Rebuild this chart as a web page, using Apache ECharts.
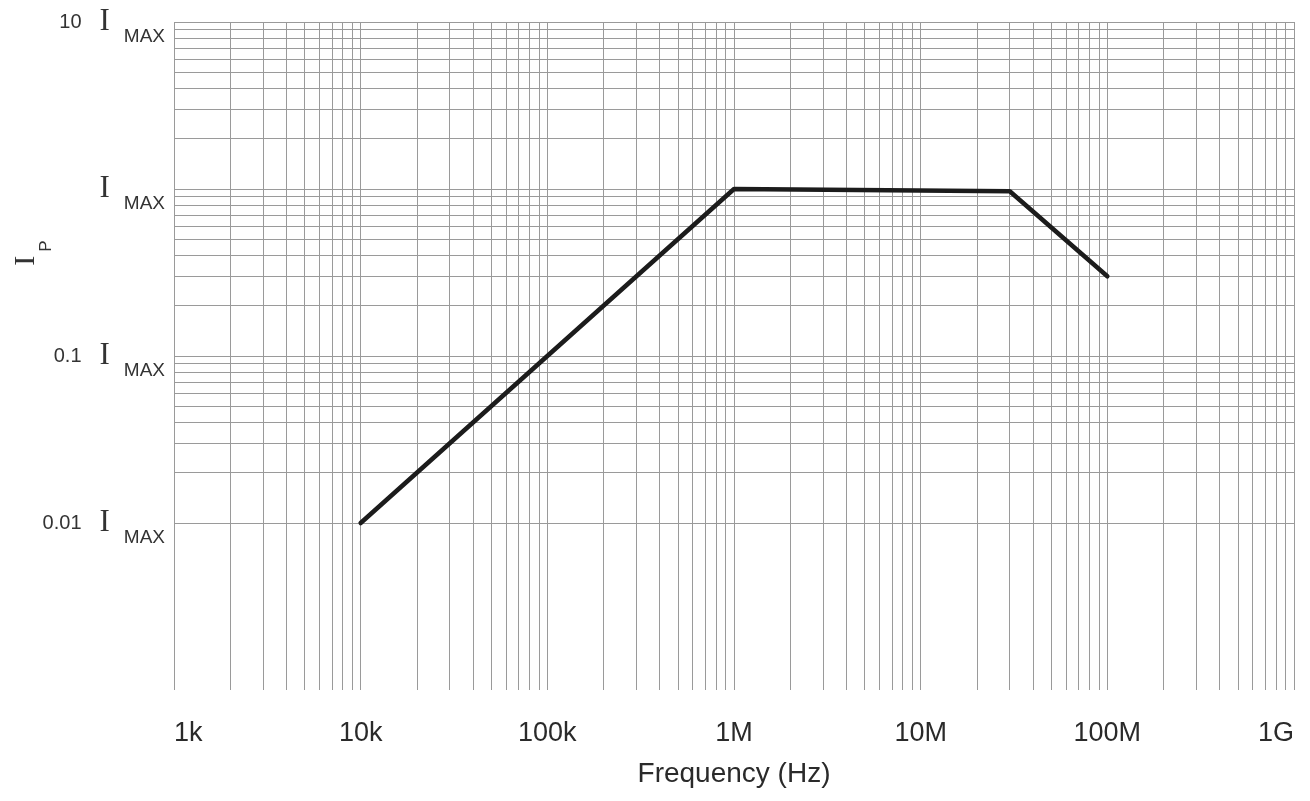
<!DOCTYPE html>
<html>
<head>
<meta charset="utf-8">
<script src="https://cdn.jsdelivr.net/npm/echarts@6/dist/echarts.min.js"></script>
<style>
html,body{margin:0;padding:0;background:#fff;}
#chart{width:1310px;height:801px;}
</style>
</head>
<body>
<div id="chart"></div>
<script>
// ---- data ----
const freqHz = [1e4, 1e6, 3e7, 1e8];
const ipRatio = [0.01, 1.0, 0.97, 0.3];
// x tick labels for exponents 3..9
const xTickExponents = [3, 4, 5, 6, 7, 8, 9];
const xTickLabels = ['1k', '10k', '100k', '1M', '10M', '100M', '1G'];
// y tick labels for exponents -3..1
const yTickExponents = [-3, -2, -1, 0, 1];
const yTickNumbers = [null, '0.01', '0.1', '', '10'];
// grid mantissas per decade
const gridMantissas = [1, 2, 3, 4, 5, 6, 7, 8, 9];
const xDecades = [3, 4, 5, 6, 7, 8];
const yDecades = [-3, -2, -1, 0];

const xGridValues = [];
xDecades.forEach(d => gridMantissas.forEach(m => xGridValues.push(m * Math.pow(10, d))));
xGridValues.push(1e9);
const yGridValues = [];
yDecades.forEach(d => gridMantissas.forEach(m => yGridValues.push(m * Math.pow(10, d))));
yGridValues.push(10);

const chart = echarts.init(document.getElementById('chart'));

const gridLineData = [];
xGridValues.forEach(v => gridLineData.push({ xAxis: v }));
yGridValues.forEach(v => gridLineData.push({ yAxis: v }));

const option = {
  backgroundColor: '#fff',
  animation: false,
  grid: { left: 174, right: 16, top: 22, bottom: 111, containLabel: false, outerBoundsMode: 'none' },
  xAxis: {
    type: 'log',
    logBase: 10,
    min: 1e3,
    max: 1e9,
    interval: 1,
    name: 'Frequency (Hz)',
    nameLocation: 'middle',
    nameGap: 70,
    nameMoveOverlap: false,
    nameTextStyle: { fontFamily: 'Liberation Sans', fontSize: 28, color: '#2a2a2a' },
    axisLine: { show: false },
    axisTick: { show: false },
    splitLine: { show: false },
    minorTick: { show: false },
    axisLabel: {
      margin: 30,
      fontFamily: 'Liberation Sans',
      fontSize: 27,
      color: '#2a2a2a',
      alignMinLabel: 'left',
      alignMaxLabel: 'right',
      formatter: function (v) {
        const e = Math.round(Math.log10(v));
        const i = xTickExponents.indexOf(e);
        return i >= 0 ? xTickLabels[i] : '';
      }
    }
  },
  yAxis: {
    type: 'log',
    logBase: 10,
    min: 0.001,
    max: 10,
    interval: 1,
    name: '{i|I}{p|P}',
    nameLocation: 'middle',
    nameGap: 119,
    nameMoveOverlap: false,
    nameTextStyle: {
      padding: [0, 0, 0, 206],
      rich: {
        i: { fontFamily: 'Liberation Serif', fontSize: 30, color: '#333' },
        p: { fontFamily: 'Liberation Sans', fontSize: 17, color: '#333', padding: [40, 0, 0, 4] }
      }
    },
    axisLine: { show: false },
    axisTick: { show: false },
    splitLine: { show: false },
    minorTick: { show: false },
    axisLabel: {
      margin: 9,
      formatter: function (v) {
        const e = Math.round(Math.log10(v));
        const i = yTickExponents.indexOf(e);
        if (i < 0 || yTickNumbers[i] === null) return '';
        const num = yTickNumbers[i] === '' ? ' ' : yTickNumbers[i];
        return '{n|' + num + '}{i|I}{m|MAX}';
      },
      rich: {
        n: { fontFamily: 'Liberation Sans', fontSize: 20, color: '#333', width: 60, align: 'right', padding: [0, 18, 0, 0] },
        i: { fontFamily: 'Liberation Serif', fontSize: 31, color: '#333', padding: [0, 14, 0, 0] },
        m: { fontFamily: 'Liberation Sans', fontSize: 19, color: '#333', padding: [30, 0, 0, 0] }
      }
    }
  },
  series: [
    {
      type: 'line',
      data: [],
      silent: true,
      z: 1,
      markLine: {
        silent: true,
        symbol: 'none',
        animation: false,
        label: { show: false },
        lineStyle: { color: '#9a9a9a', width: 1, type: 'solid' },
        emphasis: { disabled: true },
        data: gridLineData
      }
    },
    {
      type: 'line',
      z: 5,
      data: freqHz.map((f, i) => [f, ipRatio[i]]),
      showSymbol: false,
      symbol: 'none',
      lineStyle: { color: '#1c1c1c', width: 4.5, cap: 'round', join: 'round' }
    }
  ]
};
chart.setOption(option);
</script>
</body>
</html>
